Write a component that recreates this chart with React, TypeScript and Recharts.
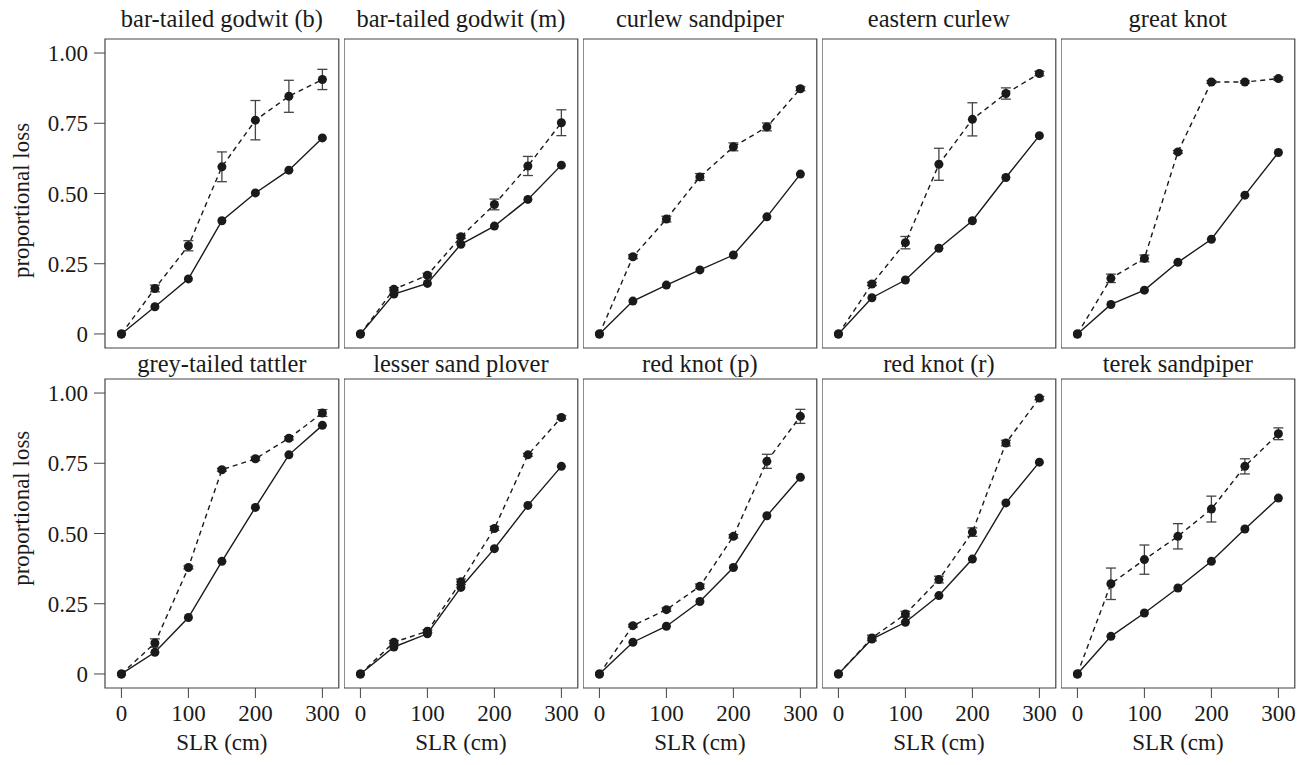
import React from "react";
import { ComposedChart, Line, XAxis, YAxis, ErrorBar, ReferenceArea } from "recharts";

// sea level rise steps (cm)
const slr = [0, 50, 100, 150, 200, 250, 300];

const species = [
  "bar-tailed godwit (b)",
  "bar-tailed godwit (m)",
  "curlew sandpiper",
  "eastern curlew",
  "great knot",
  "grey-tailed tattler",
  "lesser sand plover",
  "red knot (p)",
  "red knot (r)",
  "terek sandpiper",
];

// solid line
const solidLoss = [
  [0, 0.097, 0.196, 0.403, 0.502, 0.583, 0.698],
  [0, 0.142, 0.18, 0.319, 0.384, 0.479, 0.601],
  [0, 0.117, 0.174, 0.228, 0.281, 0.417, 0.569],
  [0, 0.129, 0.192, 0.305, 0.403, 0.557, 0.706],
  [0, 0.105, 0.156, 0.255, 0.337, 0.494, 0.646],
  [0, 0.077, 0.201, 0.401, 0.593, 0.78, 0.885],
  [0, 0.096, 0.143, 0.308, 0.446, 0.6, 0.739],
  [0, 0.113, 0.17, 0.258, 0.379, 0.563, 0.7],
  [0, 0.124, 0.184, 0.279, 0.409, 0.609, 0.754],
  [0, 0.134, 0.217, 0.306, 0.401, 0.516, 0.626],
];

// dashed line (with error bars)
const dashedLoss = [
  [0, 0.162, 0.314, 0.595, 0.761, 0.846, 0.906],
  [0, 0.159, 0.209, 0.346, 0.461, 0.598, 0.752],
  [0, 0.275, 0.409, 0.559, 0.666, 0.737, 0.873],
  [0, 0.178, 0.325, 0.604, 0.764, 0.856, 0.927],
  [0, 0.198, 0.269, 0.648, 0.897, 0.897, 0.909],
  [0, 0.11, 0.379, 0.727, 0.766, 0.839, 0.929],
  [0, 0.113, 0.152, 0.328, 0.518, 0.78, 0.913],
  [0, 0.172, 0.229, 0.312, 0.49, 0.757, 0.917],
  [0, 0.128, 0.213, 0.336, 0.505, 0.822, 0.982],
  [0, 0.321, 0.407, 0.49, 0.587, 0.739, 0.855],
];

const dashedErr = [
  [0, 0.012, 0.018, 0.053, 0.07, 0.057, 0.036],
  [0, 0.006, 0.007, 0.006, 0.019, 0.034, 0.046],
  [0, 0.007, 0.01, 0.012, 0.014, 0.014, 0.007],
  [0, 0.006, 0.022, 0.057, 0.059, 0.02, 0.008],
  [0, 0.015, 0.012, 0.005, 0.005, 0.004, 0.006],
  [0, 0.015, 0.005, 0.005, 0.006, 0.006, 0.012],
  [0, 0.006, 0.005, 0.01, 0.007, 0.005, 0.006],
  [0, 0.005, 0.006, 0.008, 0.006, 0.025, 0.025],
  [0, 0.01, 0.01, 0.012, 0.015, 0.01, 0.006],
  [0, 0.056, 0.052, 0.045, 0.046, 0.027, 0.021],
];

const xTicks = [0, 100, 200, 300];
const yTicks = [0, 0.25, 0.5, 0.75, 1];

const FONT = "'Liberation Serif', 'DejaVu Serif', serif";
const INK = "#1a1a1a";
const FRAME = "#444";
const FS = 23;
const TITLE_FS = 24.5;

const X_DOMAIN: [number, number] = [-24.5, 324.5];
const Y_DOMAIN: [number, number] = [-0.05, 1.05];

const PANEL_W = 233.8;
const PANEL_H = 309;
const LEFT0 = 105.3;
const STEP = 238.8;
const ROW_TOP = [39.3, 379];
const TITLE_GAP = [12, 7];
const YLABEL_MID = [161.5, 129.3];

function Panel({ index }: { index: number }) {
  const col = index % 5;
  const row = Math.floor(index / 5);
  const padL = col === 0 ? 100 : 0;
  const padT = 40;
  const padR = 4;
  const axisH = row === 1 ? 80 : 0;
  const padB = row === 1 ? 0 : 4;

  const data = slr.map((s, i) => ({
    slr: s,
    solid: solidLoss[index][i],
    dashed: dashedLoss[index][i],
    err: dashedErr[index][i],
  }));

  const left = LEFT0 + col * STEP - padL;
  const top = ROW_TOP[row] - padT;

  const labels = (props: any) => {
    const vb = props.viewBox || {};
    const cx = vb.x + vb.width / 2;
    const ly = vb.y + YLABEL_MID[row];
    const lx = vb.x - padL + 23.7;
    return (
      <g fontFamily={FONT} fill={INK}>
        <text x={cx} y={vb.y - TITLE_GAP[row]} textAnchor="middle" fontSize={TITLE_FS}>
          {species[index]}
        </text>
        {col === 0 && (
          <text x={lx} y={ly} textAnchor="middle" fontSize={FS} transform={`rotate(-90, ${lx}, ${ly})`}>
            proportional loss
          </text>
        )}
        {row === 1 && (
          <text x={cx} y={vb.y + vb.height + 61.7} textAnchor="middle" fontSize={FS}>
            SLR (cm)
          </text>
        )}
      </g>
    );
  };

  return (
    <div style={{ position: "absolute", left, top }}>
      <ComposedChart
        width={padL + PANEL_W + padR}
        height={padT + PANEL_H + axisH + padB}
        data={data}
        margin={{ top: padT, right: padR, bottom: padB, left: 0 }}
      >
        <XAxis
          type="number"
          dataKey="slr"
          domain={X_DOMAIN}
          ticks={xTicks}
          interval={0}
          allowDataOverflow
          hide={row === 0}
          height={axisH}
          axisLine={false}
          tickSize={10}
          tickMargin={7}
          tickLine={{ stroke: FRAME }}
          tick={{ fontSize: FS, fill: INK, fontFamily: FONT }}
        />
        <YAxis
          type="number"
          domain={Y_DOMAIN}
          ticks={yTicks}
          interval={0}
          allowDataOverflow
          hide={col !== 0}
          width={padL}
          axisLine={false}
          tickSize={11}
          tickMargin={6}
          tickLine={{ stroke: FRAME }}
          tick={{ fontSize: FS, fill: INK, fontFamily: FONT }}
          tickFormatter={(v: number) => (v === 0 ? "0" : v.toFixed(2))}
        />
        <ReferenceArea
          x1={X_DOMAIN[0]}
          x2={X_DOMAIN[1]}
          y1={Y_DOMAIN[0]}
          y2={Y_DOMAIN[1]}
          fill="none"
          fillOpacity={0}
          stroke={FRAME}
          strokeWidth={1.2}
          ifOverflow="visible"
          label={labels}
        />
        <Line
          type="linear"
          dataKey="solid"
          stroke={INK}
          strokeWidth={1.4}
          dot={{ r: 4.5, fill: INK, stroke: "none" }}
          activeDot={false}
          isAnimationActive={false}
        />
        <Line
          type="linear"
          dataKey="dashed"
          stroke={INK}
          strokeWidth={1.4}
          strokeDasharray="5 4"
          dot={{ r: 4.5, fill: INK, stroke: "none" }}
          activeDot={false}
          isAnimationActive={false}
        >
          <ErrorBar dataKey="err" width={5} stroke={FRAME} strokeWidth={1.3} direction="y" />
        </Line>
      </ComposedChart>
    </div>
  );
}

export default function App() {
  return (
    <div style={{ position: "absolute", left: 0, top: 0, width: 1309, height: 765, background: "#fff", fontFamily: FONT }}>
      {species.map((_, i) => (
        <Panel key={i} index={i} />
      ))}
    </div>
  );
}
